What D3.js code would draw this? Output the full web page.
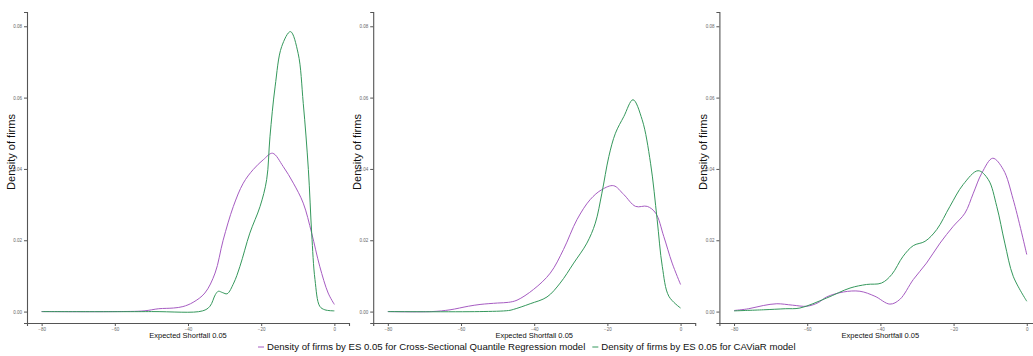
<!DOCTYPE html>
<html>
<head>
<meta charset="utf-8">
<script src="https://cdn.jsdelivr.net/npm/d3@7"></script>
<style>
  body { margin: 0; background: #fff; }
  svg { display: block; font-family: 'Liberation Sans', Arial, sans-serif; }
</style>
</head>
<body>
<div id="chart"></div>
<script>
// x ticks / y ticks
const xTicks = [-80, -60, -40, -20, 0]
const yTicks = [0, 0.02, 0.04, 0.06, 0.08]
const xTitle = 'Expected Shortfall 0.05'
const yTitle = 'Density of firms'
const seriesNames = [
  'Density of firms by ES 0.05 for Cross-Sectional Quantile Regression model',
  'Density of firms by ES 0.05 for CAViaR model'
]

// panel 1 ([ES, density])
const p1Csqr = [[-80, 0], [-60, 0], [-52, 0.0002], [-48, 0.0008], [-44, 0.001], [-41.4, 0.0014], [-38.6, 0.0026], [-35.4, 0.0052], [-32.6, 0.0108], [-30.4, 0.020], [-27.6, 0.0295], [-24.9, 0.036], [-22.2, 0.0398], [-19.4, 0.0426], [-16.9, 0.0444], [-14.0, 0.0407], [-11.2, 0.036], [-8.5, 0.0304], [-6.2, 0.022], [-4.0, 0.0127], [-1.7, 0.0052], [0, 0.002]]
const p1Caviar = [[-80, 0], [-50, 0], [-36, 0.0002], [-34, 0.0015], [-32.5, 0.0048], [-31.7, 0.0057], [-30.5, 0.0053], [-29.3, 0.005], [-27.5, 0.008], [-25.8, 0.0127], [-23.1, 0.022], [-20.3, 0.0295], [-18.5, 0.037], [-17.6, 0.049], [-16.2, 0.063], [-14.4, 0.0743], [-12.0, 0.0785], [-9.9, 0.0724], [-8.5, 0.0584], [-7.1, 0.0398], [-6.2, 0.022], [-5.3, 0.009], [-4.0, 0.0015], [-2.6, 0.0005], [0, 0.0002]]

// panel 2
const p2Csqr = [[-80, 0], [-68, 0], [-63, 0.0005], [-58, 0.0015], [-54.8, 0.002], [-50, 0.0024], [-47, 0.0026], [-44.7, 0.0032], [-40.2, 0.0062], [-35.6, 0.0108], [-32.0, 0.0174], [-28.3, 0.0258], [-24.7, 0.0314], [-21.5, 0.0342], [-18.3, 0.0353], [-15.5, 0.0328], [-12.3, 0.0295], [-9.1, 0.0295], [-6.8, 0.0276], [-4.6, 0.0211], [-2.3, 0.0136], [0, 0.0076]]
const p2Caviar = [[-80, 0], [-55, 0], [-47, 0.0003], [-45.7, 0.0006], [-41.1, 0.0022], [-36.5, 0.0041], [-32.9, 0.008], [-29.2, 0.0136], [-25.6, 0.0192], [-23.3, 0.0248], [-21.5, 0.0332], [-19.6, 0.0435], [-17.8, 0.05], [-15.5, 0.0547], [-13.0, 0.0594], [-10.5, 0.0538], [-8.2, 0.0416], [-6.4, 0.0258], [-5.0, 0.0127], [-3.2, 0.0043], [0, 0.001]]

// panel 3
const p3Csqr = [[-80, 0.0003], [-76, 0.0008], [-72, 0.0017], [-68.3, 0.0022], [-64, 0.0018], [-60.1, 0.0015], [-57, 0.0025], [-54.7, 0.0041], [-50.1, 0.0055], [-45.6, 0.0057], [-41.5, 0.0043], [-37.4, 0.0021], [-34.7, 0.0034], [-31.0, 0.009], [-27.4, 0.0136], [-23.7, 0.0192], [-20.1, 0.0239], [-16.9, 0.0276], [-14.6, 0.0332], [-12.3, 0.0388], [-9.3, 0.043], [-6.4, 0.0398], [-3.7, 0.0314], [0, 0.016]]
const p3Caviar = [[-80, 0.0002], [-72, 0.0005], [-66, 0.0008], [-62, 0.001], [-54.7, 0.0038], [-48.3, 0.0066], [-43.8, 0.0076], [-39.7, 0.008], [-36.9, 0.0104], [-33.8, 0.0155], [-31.0, 0.0185], [-27.8, 0.0197], [-24.6, 0.023], [-21.0, 0.0295], [-17.4, 0.0356], [-13.3, 0.0395], [-10.5, 0.037], [-8.2, 0.0295], [-6.0, 0.0192], [-3.7, 0.0099], [0, 0.0029]]

const panels = [[p1Csqr, p1Caviar], [p2Csqr, p2Caviar], [p3Csqr, p3Caviar]]
const colors = ['#a65cc2', '#35985c']

const W = 1033
const H = 356
const panelW = 346.2
const plot = { left: 27, width: 322, top: 12, bottom: 323 }

const svg = d3.select('#chart').append('svg')
  .attr('width', W)
  .attr('height', H)

const x = d3.scaleLinear([-84, 4], [0, plot.width])
const y = d3.scaleLinear([-0.0032, 0.084], [plot.bottom, plot.top])

const line = d3.line()
  .x(d => x(d[0]))
  .y(d => y(Math.max(0, d[1])))
  .curve(d3.curveCatmullRom.alpha(0.5))

panels.forEach((series, i) => {
  const g = svg.append('g')
    .attr('transform', `translate(${i * panelW}, 0)`)

  const inner = g.append('g')
    .attr('transform', `translate(${plot.left}, 0)`)

  // axes
  const xAxis = inner.append('g')
    .attr('transform', `translate(0, ${plot.bottom})`)
    .call(d3.axisBottom(x).tickValues(xTicks).tickSize(3).tickPadding(2).tickFormat(d3.format('d')))
  const yAxis = inner.append('g')
    .call(d3.axisLeft(y).tickValues(yTicks).tickSize(3).tickPadding(2).tickFormat(d3.format('.2f')))

  for (const ax of [xAxis, yAxis]) {
    ax.select('.domain').attr('stroke', '#555').attr('stroke-width', 1.1)
    ax.selectAll('.tick line').attr('stroke', '#555')
    ax.selectAll('.tick text').attr('fill', '#666').style('font-size', '4.5px')
  }

  // density curves
  series.forEach((d, k) => {
    inner.append('path')
      .datum(d)
      .attr('fill', 'none')
      .attr('stroke', colors[k])
      .attr('stroke-width', 1)
      .attr('d', line)
  })

  g.append('text')
    .attr('x', plot.left + plot.width / 2)
    .attr('y', 338)
    .attr('text-anchor', 'middle')
    .style('font-size', '7.5px')
    .attr('fill', '#111')
    .text(xTitle)

  g.append('text')
    .attr('transform', `translate(15, 152) rotate(-90)`)
    .attr('text-anchor', 'middle')
    .style('font-size', '11px')
    .attr('fill', '#111')
    .text(yTitle)
})

// legend
const legend = svg.append('g')
  .attr('transform', 'translate(258, 350)')

let lx = 0
seriesNames.forEach((name, k) => {
  legend.append('line')
    .attr('x1', lx).attr('x2', lx + 6)
    .attr('y1', -3).attr('y2', -3)
    .attr('stroke', colors[k])
    .attr('stroke-width', 1)
  const t = legend.append('text')
    .attr('x', lx + 9)
    .attr('y', 0)
    .style('font-size', '9.6px')
    .attr('fill', '#111')
    .text(name)
  lx += 9 + t.node().getComputedTextLength() + 7
})
</script>
</body>
</html>
